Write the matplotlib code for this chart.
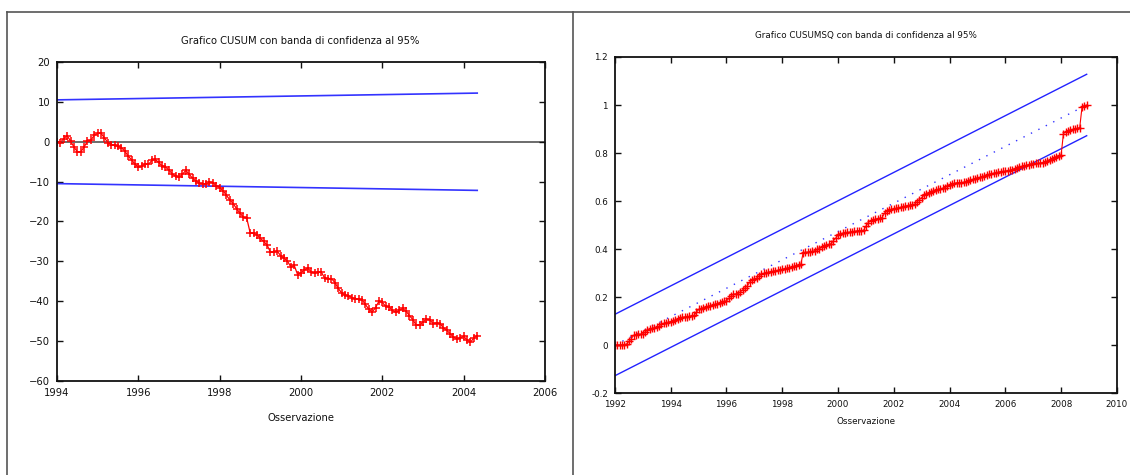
import numpy as np
import matplotlib
matplotlib.use("Agg")
import matplotlib.pyplot as plt
from matplotlib.lines import Line2D
from matplotlib.ticker import FormatStrFormatter

# CUSUM, monthly from 1994:01
cusum_start = 1994
cusum = [
    0.0, -0.2, 0.8, 1.5, 0.2, -1.3, -2.5, -2.6, -1.3, 0.1, 0.4, 1.6,
    2.1, 2.1, 1.0, -0.2, -0.7, -0.9, -1.1, -1.5, -2.3, -3.6, -4.5, -5.6,
    -6.4, -6.2, -5.5, -5.7, -4.7, -4.4, -5.2, -6.0, -6.3, -7.1, -8.0, -8.7,
    -8.9, -8.2, -7.2, -8.1, -9.2, -9.8, -10.4, -10.6, -10.6, -10.1, -10.3, -11.0,
    -11.5, -12.3, -13.4, -14.6, -15.5, -16.8, -17.9, -18.9, -19.2, -22.8, -23.0, -23.3,
    -24.2, -25.0, -25.9, -27.7, -27.7, -27.4, -28.6, -29.2, -29.9, -31.4, -31.0, -33.3,
    -32.8, -32.2, -31.7, -32.6, -32.9, -32.6, -32.7, -34.2, -34.3, -34.3, -35.3, -36.8,
    -37.9, -38.5, -38.6, -39.1, -39.4, -39.5, -39.6, -40.8, -42.0, -42.7, -41.6, -40.0,
    -40.3, -41.3, -41.4, -42.3, -42.8, -42.3, -41.8, -42.5, -43.6, -44.6, -46.0, -46.0,
    -45.2, -44.5, -44.7, -45.6, -45.4, -45.6, -46.6, -47.3, -48.1, -49.0, -49.4, -49.2,
    -48.8, -49.7, -50.3, -49.2, -48.6,
]
cusum_band = (10.5, 12.2)  # upper bound at first and last obs (lower is symmetric)

# CUSUMSQ, monthly from 1992:01
cusumsq_start = 1992
cusumsq = [
    0.000, 0.000, 0.000, 0.001, 0.002, 0.004, 0.015, 0.026, 0.040, 0.043, 0.045, 0.045,
    0.046, 0.055, 0.062, 0.065, 0.069, 0.071, 0.073, 0.079, 0.087, 0.090, 0.093, 0.095,
    0.097, 0.100, 0.104, 0.109, 0.114, 0.115, 0.117, 0.118, 0.119, 0.121, 0.123, 0.136,
    0.148, 0.152, 0.155, 0.158, 0.161, 0.163, 0.166, 0.169, 0.172, 0.176, 0.179, 0.182,
    0.184, 0.194, 0.205, 0.212, 0.213, 0.214, 0.222, 0.230, 0.238, 0.247, 0.262, 0.272,
    0.275, 0.279, 0.288, 0.295, 0.298, 0.301, 0.303, 0.305, 0.307, 0.309, 0.311, 0.313,
    0.315, 0.318, 0.320, 0.322, 0.325, 0.328, 0.331, 0.334, 0.336, 0.385, 0.386, 0.387,
    0.388, 0.390, 0.393, 0.398, 0.402, 0.407, 0.413, 0.416, 0.419, 0.422, 0.435, 0.445,
    0.459, 0.464, 0.466, 0.468, 0.469, 0.470, 0.471, 0.473, 0.475, 0.477, 0.477, 0.478,
    0.495, 0.510, 0.518, 0.521, 0.524, 0.526, 0.528, 0.531, 0.550, 0.557, 0.561, 0.565,
    0.567, 0.569, 0.571, 0.574, 0.576, 0.579, 0.581, 0.583, 0.585, 0.587, 0.597, 0.606,
    0.614, 0.624, 0.630, 0.635, 0.638, 0.641, 0.645, 0.648, 0.650, 0.653, 0.656, 0.663,
    0.668, 0.670, 0.673, 0.676, 0.677, 0.677, 0.678, 0.681, 0.684, 0.687, 0.690, 0.693,
    0.696, 0.698, 0.700, 0.703, 0.707, 0.711, 0.714, 0.716, 0.718, 0.720, 0.722, 0.723,
    0.724, 0.726, 0.728, 0.731, 0.735, 0.739, 0.742, 0.744, 0.746, 0.748, 0.751, 0.754,
    0.756, 0.757, 0.757, 0.758, 0.760, 0.762, 0.765, 0.770, 0.777, 0.781, 0.785, 0.789,
    0.792, 0.881, 0.889, 0.893, 0.895, 0.898, 0.900, 0.903, 0.906, 0.992, 0.997, 1.000,
]
cusumsq_expected = (0.0, 1.0)
cusumsq_c0 = 0.128

plt.rcParams['font.family'] = ['DejaVu Sans']

fig = plt.figure(figsize=(11.3, 4.75), dpi=100)
fig.patch.set_facecolor('white')

# panel frames
frame_kw = dict(color='#555555', lw=1.2, transform=fig.transFigure)
fig.add_artist(Line2D([0.0062, 1.0], [0.9747, 0.9747], **frame_kw))
fig.add_artist(Line2D([0.0062, 0.0062], [0.0, 0.9747], **frame_kw))
fig.add_artist(Line2D([0.5071, 0.5071], [0.0, 0.9747], **frame_kw))


def style_axes(ax, fs):
    for s in ax.spines.values():
        s.set_linewidth(1.3)
        s.set_color('#111111')
    ax.tick_params(direction='in', top=True, right=True, length=4, width=1,
                   labelsize=fs, pad=5, colors='#111111')


# --- CUSUM ---
ax1 = fig.add_axes([0.0504, 0.1979, 0.4319, 0.6716])
t1 = cusum_start + np.arange(len(cusum)) / 12
ax1.axhline(0, color='#606060', lw=1.3, zorder=1)
ax1.plot([t1[0], t1[-1]], [cusum_band[0], cusum_band[1]], color='#3333ff', lw=1.2)
ax1.plot([t1[0], t1[-1]], [-cusum_band[0], -cusum_band[1]], color='#3333ff', lw=1.2)
ax1.plot(t1, cusum, color='red', lw=0.9, marker='+', markersize=6, mew=1.1)
ax1.set_xlim(1994, 2006)
ax1.set_ylim(-60, 20)
ax1.set_xticks(range(1994, 2007, 2))
ax1.set_yticks(range(-60, 21, 10))
style_axes(ax1, 7.2)
fig.text(0.266, 0.9137, 'Grafico CUSUM con banda di confidenza al 95%',
         ha='center', va='center', fontsize=7.2, color='#111111')
fig.text(0.266, 0.12, 'Osservazione', ha='center', va='center',
         fontsize=7.2, color='#111111')

# --- CUSUMSQ ---
ax2 = fig.add_axes([0.5442, 0.1726, 0.4442, 0.7074])
t2 = cusumsq_start + np.arange(len(cusumsq)) / 12
e0, e1 = cusumsq_expected
ax2.plot([t2[0], t2[-1]], [e0 + cusumsq_c0, e1 + cusumsq_c0], color='#2222ff', lw=1)
ax2.plot([t2[0], t2[-1]], [e0 - cusumsq_c0, e1 - cusumsq_c0], color='#2222ff', lw=1)
ax2.plot([t2[0], t2[-1]], [e0, e1], color='#3333ff', lw=1, linestyle=(0, (1, 5)))
ax2.plot(t2, cusumsq, color='red', lw=0.8, marker='+', markersize=6, mew=1.0)
ax2.set_xlim(1992, 2010)
ax2.set_ylim(-0.2, 1.2)
ax2.set_xticks(range(1992, 2011, 2))
ax2.set_yticks(np.arange(-0.2, 1.21, 0.2))
ax2.yaxis.set_major_formatter(FormatStrFormatter('%g'))
style_axes(ax2, 6.3)
fig.text(0.7663, 0.926, 'Grafico CUSUMSQ con banda di confidenza al 95%',
         ha='center', va='center', fontsize=6.3, color='#111111')
fig.text(0.7663, 0.1116, 'Osservazione', ha='center', va='center',
         fontsize=6.3, color='#111111')

fig.savefig('out.png', dpi=100)
